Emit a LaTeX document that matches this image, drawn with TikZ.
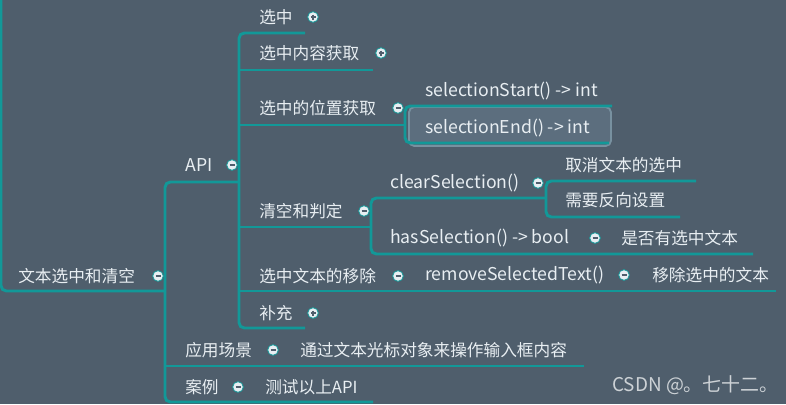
\documentclass[tikz,border=0pt]{standalone}
\usepackage{fontspec}
\setmainfont{Noto Sans CJK SC}
\newfontfamily\latfont[Scale=1.06]{Noto Sans CJK SC}
\usetikzlibrary{calc}
\definecolor{bg}{RGB}{79,94,108}
\definecolor{teal1}{RGB}{18,152,152}
\definecolor{txt}{RGB}{232,238,242}
\definecolor{hl}{RGB}{92,110,126}
\definecolor{hlb}{RGB}{120,145,160}
\definecolor{wm}{RGB}{205,210,214}
\begin{document}
\begin{tikzpicture}[x=0.75pt,y=-0.75pt,
  lbl/.style={anchor=west,inner sep=0pt,text=txt,font=\fontsize{12.5}{14}\selectfont},
  llbl/.style={lbl,font=\latfont\fontsize{12.5}{14}\selectfont},
  conn/.style={draw=teal1,line width=2.2pt,rounded corners=4pt},
  tog/.style={circle,draw=teal1,line width=0.6pt,fill=txt,minimum size=8pt,inner sep=0pt},
  plus/.style={tog,path picture={\draw[bg,line width=0.9pt] ($(path picture bounding box.center)+(-2.5,0)$)--($(path picture bounding box.center)+(2.5,0)$) ($(path picture bounding box.center)+(0,-2.5)$)--($(path picture bounding box.center)+(0,2.5)$);}},
  minus/.style={tog,path picture={\draw[bg,line width=0.9pt] ($(path picture bounding box.center)+(-2.5,0)$)--($(path picture bounding box.center)+(2.5,0)$);}}
]
\fill[bg] (0,0) rectangle (786,404);
\useasboundingbox (0,0) rectangle (786,404);

% highlight box
\draw[fill=hl,draw=hlb,line width=1.4pt,rounded corners=4pt] (409,107) rectangle (611,146);

% connector coordinates
\coordinate (rTop) at (1,-5);
\coordinate (rJ) at (165,291);
\coordinate (pJ) at (405,125);
\coordinate (qJ) at (371,227);

% root
\draw[conn] (rTop) -- (1,291) -- (rJ);
% root bracket
\draw[conn] (239,182) -- (165,182) -- (165,402) -- (373,402);
\draw[conn] (165,366) -- (584,366);
% API bracket
\draw[conn] (305,33) -- (239,33) -- (239,328) -- (305,328);
\draw[conn] (239,70) -- (373,70);
\draw[conn] (239,125) -- (pJ);
\draw[conn] (239,227) -- (qJ);
\draw[conn] (239,291) -- (776,291);
% position bracket
\draw[conn] (612,106) -- (405,106) -- (405,143) -- (609,143);
% clear bracket
\draw[conn] (545,198) -- (371,198) -- (371,254) -- (753,254);
% clearSelection bracket
\draw[conn] (696,181) -- (546,181) -- (546,217) -- (680,217);

% labels
\node[lbl] (root) at (18,276) {文本选中和清空};
\node[minus] (trt) at (158,276) {};
\node[llbl] (api) at (185,165) {API};
\node[minus] (tapi) at (232,165) {};
\node[lbl] (xz) at (259,17) {选中};
\node[plus] (txz) at (313,17) {};
\node[lbl] (nr) at (259,53) {选中内容获取};
\node[plus] (tnr) at (381,53) {};
\node[lbl] (wz) at (259,108) {选中的位置获取};
\node[minus] (twz) at (398,108) {};
\node[llbl] (ss) at (425,91) {selectionStart() -> int};
\node[llbl] (se) at (425,128) {selectionEnd() -> int};
\node[lbl] (qk) at (259,211) {清空和判定};
\node[minus] (tqk) at (364,211) {};
\node[llbl] (cs) at (390,183) {clearSelection()};
\node[minus] (tcs) at (538,183) {};
\node[lbl] (qx) at (565,165) {取消文本的选中};
\node[lbl] (fx) at (565,200) {需要反向设置};
\node[llbl] (hs) at (390,238) {hasSelection() -> bool};
\node[minus] (ths) at (595,238) {};
\node[lbl] (sf) at (621,238) {是否有选中文本};
\node[lbl] (yc) at (259,276) {选中文本的移除};
\node[minus] (tyc) at (398,276) {};
\node[llbl] (rs) at (425,275) {removeSelectedText()};
\node[minus] (trs) at (624,275) {};
\node[lbl] (ycw) at (652,275) {移除选中的文本};
\node[lbl] (bc) at (259,313) {补充};
\node[plus] (tbc) at (313,313) {};
\node[lbl] (cj) at (185,350) {应用场景};
\node[minus] (tcj) at (273,350) {};
\node[lbl] (tg) at (300,350) {通过文本光标对象来操作输入框内容};
\node[lbl] (al) at (185,387) {案例};
\node[minus] (tal) at (238,387) {};
\node[lbl] (cs2) at (265,387) {测试以上API};
\node[anchor=west,inner sep=0pt,text=wm,font=\fontsize{14.2}{16}\selectfont] (wmk) at (612,385) {CSDN @。七十二。};
\end{tikzpicture}
\end{document}
